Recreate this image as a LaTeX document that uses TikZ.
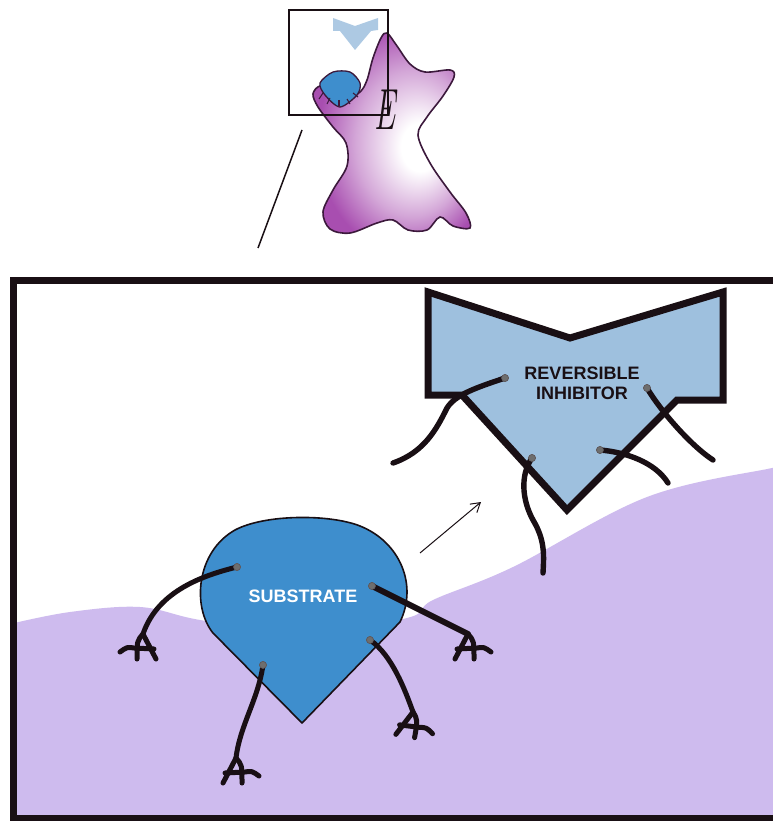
\documentclass[tikz,border=0pt]{standalone}
\usepackage{fontspec}
\setsansfont{Liberation Sans}
\usetikzlibrary{arrows.meta}

\definecolor{ground}{RGB}{206,187,238}
\definecolor{inhblue}{RGB}{158,192,222}
\definecolor{subblue}{RGB}{62,142,205}
\definecolor{enzpurple}{RGB}{168,78,176}
\definecolor{enzline}{RGB}{60,25,60}
\definecolor{ink}{RGB}{25,15,20}
\definecolor{dotgray}{RGB}{110,110,110}

\pgfdeclareradialshading{enzglow}{\pgfpoint{10bp}{-4bp}}{%
  color(0bp)=(white); color(6bp)=(white); color(18bp)=(enzpurple!50!white);
  color(28bp)=(enzpurple); color(50bp)=(enzpurple)}

\tikzset{
  strand/.style={line width=5.4pt, line cap=round, line join=round, draw=ink},
  thinstrand/.style={line width=5pt, line cap=round, line join=round, draw=ink},
  bead/.style={circle, fill=dotgray, draw=ink!70, line width=0.6pt, inner sep=0pt, minimum size=7pt},
  foot/.pic={
    \draw[thinstrand] (0,0) -- (-13,25);
    \draw[thinstrand] (0,0) .. controls (6,7) .. (6,25);
    \draw[thinstrand] (-11,15) -- (9,14) .. controls (16,13) .. (23,18);
  },
  label/.style={font=\sffamily\bfseries\fontsize{18}{20}\selectfont, align=center, inner sep=0pt}
}

\begin{document}
\begin{tikzpicture}[x=1pt,y=-1pt]
\useasboundingbox (0,0) rectangle (772,821);

% ---------- enlarged view: ground ----------
\begin{scope}
  \clip (13,280) rectangle (790,818);
  \fill[white] (13,280) rectangle (790,818);
  \fill[ground] plot[smooth, tension=0.6] coordinates {
      (10,624) (70,612) (140,607) (200,620) (300,634) (407,618)
      (433,600) (513,567) (647,497) (772,468) (790,465)}
    -- (790,830) -- (10,830) -- cycle;
\end{scope}

% ---------- reversible inhibitor ----------
\draw[fill=inhblue, draw=ink, line width=7pt, line join=miter]
  (428,292) -- (570,338) -- (723,292) -- (723,400) -- (677,400)
  -- (567,510) -- (462,395) -- (428,395) -- cycle;
\node[label, text=ink] (inhlabel) at (582,383) {REVERSIBLE\\INHIBITOR};

\node[bead] (i1) at (505,378) {};
\node[bead] (i2) at (647,388) {};
\node[bead] (i3) at (532,458) {};
\node[bead] (i4) at (600,450) {};
\coordinate (i1end) at (393,463);
\coordinate (i2end) at (713,460);
\coordinate (i3end) at (543,573);
\coordinate (i4end) at (668,483);
\draw[strand] (i1.center) .. controls (475,388) and (455,395) .. (447,408)
  .. controls (437,428) and (425,452) .. (i1end);
\draw[strand] (i2.center) .. controls (660,410) and (690,445) .. (i2end);
\draw[strand] (i3.center) .. controls (520,475) and (522,500) .. (533,520)
  .. controls (545,540) and (544,555) .. (i3end);
\draw[strand] (i4.center) .. controls (625,452) and (655,462) .. (i4end);
\foreach \b in {i1,i2,i3,i4} \node[bead] at (\b) {};

% ---------- arrow ----------
\coordinate (arrA) at (420,553);
\coordinate (arrB) at (481,502);
\draw[line width=1pt, draw=ink, -{Straight Barb[length=9pt,width=11pt]}] (arrA) -- (arrB);

% ---------- substrate ----------
\draw[fill=subblue, draw=ink, line width=1.6pt, line join=round]
  (302,723) -- (213,633)
  .. controls (192,607) and (196,552) .. (235,530)
  .. controls (265,514) and (330,514) .. (360,526)
  .. controls (400,542) and (418,585) .. (400,622) -- cycle;
\node[label, text=white] (sublabel) at (303,596) {SUBSTRATE};

\node[bead] (s1) at (237,567) {};
\node[bead] (s2) at (372,586) {};
\node[bead] (s3) at (370,640) {};
\node[bead] (s4) at (263,665) {};
\coordinate (s1end) at (143,634);
\coordinate (s2end) at (468,634);
\coordinate (s3end) at (413,712);
\coordinate (s4end) at (236,758);
\draw[thinstrand] (s1.center) .. controls (205,575) and (158,590) .. (s1end);
\draw[thinstrand, line width=6pt] (s2.center) -- (s2end);
\draw[thinstrand] (s3.center) .. controls (392,655) and (405,690) .. (s3end);
\draw[thinstrand] (s4.center) .. controls (258,700) and (240,725) .. (s4end);
\pic[xscale=-1] at (s1end) {foot};
\pic at (s2end) {foot};
\pic[rotate=-10] at (s3end) {foot};
\pic at (s4end) {foot};
\foreach \b in {s1,s2,s3,s4} \node[bead] at (\b) {};

% ---------- enlarged view frame ----------
\draw[draw=ink, line width=7pt] (795,280) -- (13,280) -- (13,818) -- (795,818);

% ---------- whole enzyme ----------
\shade[shading=enzglow, draw=enzline, line width=1.6pt]
  plot[smooth cycle, tension=0.55] coordinates {
    (387,33) (397,46) (410,64) (425,72) (450,70) (454,77) (443,96)
    (427,117) (418,135) (430,163) (450,192) (466,213) (470,228)
    (453,226) (440,217) (427,230) (408,230) (393,220) (377,223)
    (350,233) (330,229) (323,212) (333,190) (347,166) (346,143)
    (333,127) (318,107) (313,94) (320,86) (333,90) (345,100)
    (360,92) (367,80) (373,58) (381,38)};

% small substrate docked on the enzyme
\draw[fill=subblue, draw=enzline, line width=1.3pt]
  plot[smooth cycle, tension=0.5] coordinates {
    (320,83) (333,72) (350,72) (360,83) (357,95) (340,107) (325,95)};
\foreach \a/\b in {{(323,93)}/{(319,99)}, {(330,98)}/{(327,104)}, {(347,99)}/{(350,104)}, {(353,93)}/{(358,97)}, {(339,100)}/{(339,106)}}
  \draw[enzline, line width=1.1pt] \a -- \b;

% small inhibitor above the enzyme
\fill[inhblue!85!white]
  (333,18) -- (355,26) -- (378,18) -- (378,30) -- (371,31) -- (355,50)
  -- (340,31) -- (333,31) -- cycle;

\node[font=\fontsize{58}{58}\selectfont\itshape, xscale=0.55, text=ink, inner sep=0pt] (enzE) at (385,110) {E};

% zoom frame and leader line
\draw[draw=ink, line width=2.6pt] (289,10) rectangle (388,115);
\coordinate (leadA) at (302,130);
\coordinate (leadB) at (258,248);
\draw[draw=ink, line width=1.5pt] (leadA) -- (leadB);

\end{tikzpicture}
\end{document}
